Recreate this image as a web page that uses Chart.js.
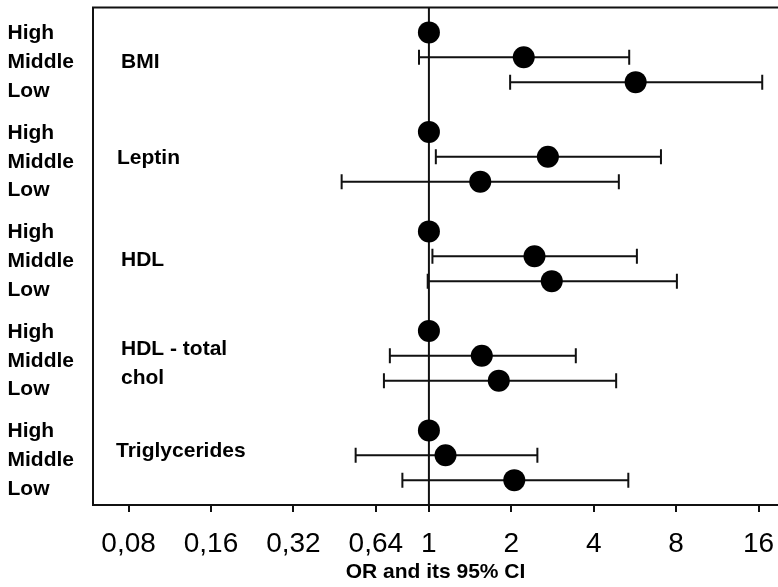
<!DOCTYPE html>
<html>
<head>
<meta charset="utf-8">
<script src="https://cdn.jsdelivr.net/npm/chart.js@4.4.0/dist/chart.umd.min.js"></script>
<style>
  html, body { margin: 0; padding: 0; background: #ffffff; }
  #wrap { width: 778px; height: 587px; }
</style>
</head>
<body>
<div id="wrap"><canvas id="c" width="778" height="587"></canvas></div>
<script>
// ---- data ----
const groupNames = [['BMI'], ['Leptin'], ['HDL'], ['HDL - total', 'chol'], ['Triglycerides']];
const levelNames = ['High', 'Middle', 'Low'];
const orEstimate = [1, 2.22, 5.69,  1, 2.72, 1.54,  1, 2.43, 2.81,  1, 1.56, 1.80,  1, 1.15, 2.05];
const ciLower    = [null, 0.92, 1.98,  null, 1.06, 0.48,  null, 1.03, 0.99,  null, 0.72, 0.685,  null, 0.54, 0.80];
const ciUpper    = [null, 5.39, 16.5,  null, 7.04, 4.94,  null, 5.75, 8.05,  null, 3.44, 4.83,  null, 2.49, 5.35];
const tickValues = [0.08, 0.16, 0.32, 0.64, 1, 2, 4, 8, 16];
const tickLabels = ['0,08', '0,16', '0,32', '0,64', '1', '2', '4', '8', '16'];
const referenceOR = 1;
const axisTitle = 'OR and its 95% CI';

// ---- layout constants ----
const FONT = '"Liberation Sans", Arial, Helvetica, sans-serif';
const rowsPerGroup = 4;
const levelOffsets = [0.05, 1.2, 2.35];
const groupLabelX = [121, 117, 121, 121, 116];
const groupLabelRows = [[1.19], [1.05], [1.17], [0.72, 1.91], [0.85]];

const rowOf = i => Math.floor(i / levelNames.length) * rowsPerGroup + (i % levelNames.length);
const points = orEstimate.map((v, i) => ({ x: v, y: rowOf(i) }));

const forestPlugin = {
  id: 'forest',
  beforeDatasetsDraw(chart) {
    const { ctx, chartArea, scales: { x, y } } = chart;
    ctx.save();
    ctx.strokeStyle = '#111';
    ctx.lineWidth = 2;
    // reference line at OR = 1
    const xr = x.getPixelForValue(referenceOR);
    ctx.beginPath();
    ctx.moveTo(xr, chartArea.top);
    ctx.lineTo(xr, chartArea.bottom);
    ctx.stroke();
    // top frame line
    ctx.beginPath();
    ctx.moveTo(chartArea.left - 1, chartArea.top);
    ctx.lineTo(chartArea.right, chartArea.top);
    ctx.stroke();
    // error bars
    ciLower.forEach((lo, i) => {
      const hi = ciUpper[i];
      if (lo == null || hi == null) return;
      const py = y.getPixelForValue(rowOf(i));
      const x1 = x.getPixelForValue(lo);
      const x2 = x.getPixelForValue(hi);
      ctx.beginPath();
      ctx.moveTo(x1, py); ctx.lineTo(x2, py);
      ctx.moveTo(x1, py - 7.5); ctx.lineTo(x1, py + 7.5);
      ctx.moveTo(x2, py - 7.5); ctx.lineTo(x2, py + 7.5);
      ctx.stroke();
    });
    ctx.restore();
  },
  afterDraw(chart) {
    const { ctx, scales: { y } } = chart;
    ctx.save();
    ctx.fillStyle = '#000';
    ctx.font = 'bold 21px ' + FONT;
    ctx.textBaseline = 'middle';
    ctx.textAlign = 'left';
    groupNames.forEach((lines, g) => {
      const base = g * rowsPerGroup;
      levelNames.forEach((lv, k) => {
        ctx.fillText(lv, 7.5, y.getPixelForValue(base + levelOffsets[k]));
      });
      lines.forEach((t, j) => {
        ctx.fillText(t, groupLabelX[g], y.getPixelForValue(base + groupLabelRows[g][j]));
      });
    });
    ctx.restore();
  }
};

new Chart(document.getElementById('c'), {
  type: 'scatter',
  data: {
    datasets: [{
      data: points,
      pointRadius: 11,
      pointHoverRadius: 11,
      pointBackgroundColor: '#000',
      pointBorderColor: '#000',
      pointBorderWidth: 0,
      showLine: false,
      clip: false
    }]
  },
  options: {
    responsive: false,
    animation: false,
    devicePixelRatio: 1,
    layout: { autoPadding: false, padding: { top: 7.5, left: 0, right: 0, bottom: 0 } },
    plugins: { legend: { display: false }, tooltip: { enabled: false } },
    events: [],
    scales: {
      x: {
        type: 'logarithmic',
        position: 'bottom',
        min: 0.0593,
        max: 18.84,
        afterBuildTicks: s => { s.ticks = tickValues.map(v => ({ value: v })); },
        afterFit: s => { s.height = 82; s.paddingLeft = 0; s.paddingRight = 0; },
        ticks: {
          autoSkip: false,
          maxRotation: 0,
          minRotation: 0,
          padding: 15,
          color: '#000',
          font: { family: FONT, size: 28 },
          callback: (val, idx) => tickLabels[idx]
        },
        grid: { drawOnChartArea: false, drawTicks: true, tickLength: 7, color: '#111', lineWidth: 2 },
        border: { display: true, color: '#111', width: 2 },
        title: {
          display: true,
          text: axisTitle,
          color: '#000',
          font: { family: FONT, size: 21, weight: 'bold' },
          padding: { top: 0, bottom: 2 }
        }
      },
      y: {
        type: 'linear',
        position: 'left',
        min: -1,
        max: 19,
        reverse: true,
        afterFit: s => { s.width = 93; s.paddingTop = 0; s.paddingBottom = 0; },
        ticks: { display: false },
        grid: { display: false },
        border: { display: true, color: '#111', width: 2 }
      }
    }
  },
  plugins: [forestPlugin]
});
</script>
</body>
</html>
